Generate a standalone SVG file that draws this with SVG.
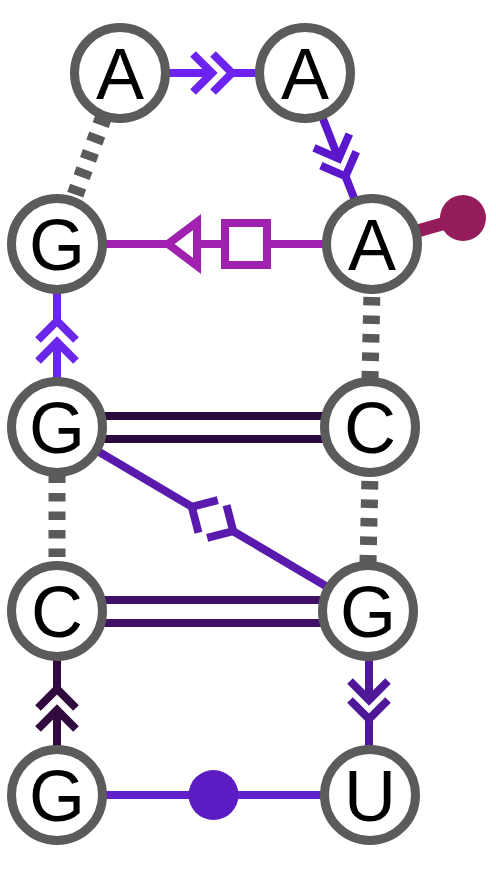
<svg xmlns="http://www.w3.org/2000/svg" xmlns:xlink="http://www.w3.org/1999/xlink" width="496" height="870" viewBox="0 0 496 870">
<style>
.node circle{fill:#fff;stroke:#5b5b5b;stroke-width:9}
.node text{font-family:"Liberation Sans",Arial,sans-serif;font-size:72px;fill:#000;text-anchor:middle}
.ln{fill:none;stroke-width:8;stroke-linecap:butt}
.dash{fill:none;stroke:#5a5a5a;stroke-width:17;stroke-dasharray:8.5 10}
.chev{fill:none;stroke-width:8;stroke-linecap:butt;stroke-linejoin:miter}
</style>
<defs>
<path id="chev" d="M-19,-19 L0,0 L-19,19"/>
</defs>
<rect width="496" height="870" fill="#fff"/>
<g id="connectors">
<line class="dash" x1="103.6" y1="117.1" x2="73.3" y2="199.9"/>
<line class="dash" x1="57" y1="474.5" x2="57" y2="570"/>
<line class="dash" x1="370" y1="379.5" x2="372" y2="290"/>
<line class="dash" x1="368" y1="563.5" x2="370" y2="474"/>
<g stroke="#6c22f0">
<line class="ln" x1="120" y1="73" x2="212" y2="73"/>
<line class="ln" x1="232" y1="73" x2="305" y2="73"/>
<use xlink:href="#chev" class="chev" transform="translate(212,73)"/>
<use xlink:href="#chev" class="chev" transform="translate(232,73)"/>
</g>
<g stroke="#5b17cc">
<line class="ln" x1="305" y1="73" x2="338.6" y2="158.6"/>
<line class="ln" x1="345.5" y1="176.3" x2="372" y2="244"/>
<use xlink:href="#chev" class="chev" transform="translate(338.6,158.6) rotate(68.6)"/>
<use xlink:href="#chev" class="chev" transform="translate(345.5,176.3) rotate(68.6)"/>
</g>
<g stroke="#a020b0">
<line class="ln" x1="57" y1="244" x2="372" y2="244"/>
<polygon points="168,244 197,222 197,266" fill="#fff" stroke-width="8"/>
<rect x="225" y="223" width="42" height="42" fill="#fff" stroke-width="8"/>
</g>
<line x1="372" y1="244" x2="463" y2="218" stroke="#951c5b" stroke-width="13"/>
<circle cx="463" cy="218" r="23" fill="#951c5b"/>
<g stroke="#6a26ea">
<line class="ln" x1="57" y1="427" x2="57" y2="342"/>
<line class="ln" x1="57" y1="321" x2="57" y2="244"/>
<use xlink:href="#chev" class="chev" transform="translate(57,342) rotate(-90)"/>
<use xlink:href="#chev" class="chev" transform="translate(57,321) rotate(-90)"/>
</g>
<g stroke="#2b0b3d">
<line class="ln" x1="57" y1="416" x2="370" y2="416"/>
<line class="ln" x1="57" y1="439" x2="370" y2="439"/>
</g>
<g stroke="#5a1aae">
<line class="ln" x1="57" y1="427" x2="191.8" y2="506.8"/>
<line class="ln" x1="233.2" y1="531.2" x2="368" y2="611"/>
<use xlink:href="#chev" class="chev" transform="translate(191.8,506.8) rotate(210.6)"/>
<use xlink:href="#chev" class="chev" transform="translate(233.2,531.2) rotate(30.6)"/>
</g>
<g stroke="#3f1066">
<line class="ln" x1="57" y1="600" x2="368" y2="600"/>
<line class="ln" x1="57" y1="623" x2="368" y2="623"/>
</g>
<g stroke="#30093f">
<line class="ln" x1="57" y1="795" x2="57" y2="710"/>
<line class="ln" x1="57" y1="689" x2="57" y2="611"/>
<use xlink:href="#chev" class="chev" transform="translate(57,710) rotate(-90)"/>
<use xlink:href="#chev" class="chev" transform="translate(57,689) rotate(-90)"/>
</g>
<g stroke="#4e1899">
<line class="ln" x1="369" y1="611" x2="369" y2="700"/>
<line class="ln" x1="369" y1="719" x2="369" y2="795"/>
<use xlink:href="#chev" class="chev" transform="translate(369,700) rotate(90)"/>
<use xlink:href="#chev" class="chev" transform="translate(369,719) rotate(90)"/>
</g>
<line class="ln" x1="57" y1="795" x2="370" y2="795" stroke="#6220cc"/>
<circle cx="213.5" cy="795" r="25" fill="#5c1cc4"/>
</g>
<g id="n1" class="node"><circle cx="120" cy="73" r="45.5"/><text x="120" y="99">A</text></g>
<g id="n2" class="node"><circle cx="305" cy="73" r="45.5"/><text x="305" y="99">A</text></g>
<g id="n3" class="node"><circle cx="57" cy="244" r="45.5"/><text x="57" y="270">G</text></g>
<g id="n4" class="node"><circle cx="372" cy="244" r="45.5"/><text x="372" y="270">A</text></g>
<g id="n5" class="node"><circle cx="57" cy="427" r="45.5"/><text x="57" y="453">G</text></g>
<g id="n6" class="node"><circle cx="370" cy="427" r="45.5"/><text x="370" y="453">C</text></g>
<g id="n7" class="node"><circle cx="57" cy="611" r="45.5"/><text x="57" y="637">C</text></g>
<g id="n8" class="node"><circle cx="368" cy="611" r="45.5"/><text x="368" y="637">G</text></g>
<g id="n9" class="node"><circle cx="57" cy="795" r="45.5"/><text x="57" y="821">G</text></g>
<g id="n10" class="node"><circle cx="370" cy="795" r="45.5"/><text x="370" y="821">U</text></g>
</svg>
